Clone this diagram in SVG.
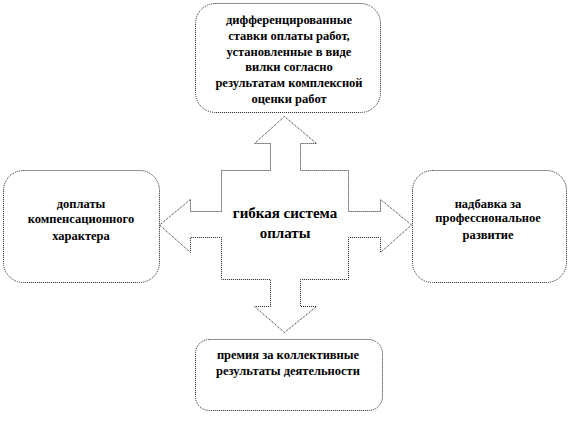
<svg xmlns="http://www.w3.org/2000/svg" width="570" height="423" viewBox="0 0 570 423">
<style>
.box{fill:#fff;stroke:#222;stroke-width:1;stroke-dasharray:1 1}
.arrow{fill:#fff;stroke:#222;stroke-width:1;stroke-dasharray:1 1}
text{font-family:'Liberation Serif','DejaVu Serif',serif;font-weight:bold;fill:#000;text-anchor:middle}
.t{font-size:12.5px}
.c{font-size:15px}
</style>
<rect width="570" height="423" fill="#fff"/>
<g id="connectors">
<path class="arrow" d="M284.5,116.5 L316.5,143.5 L300.5,143.5 L300.5,170.5 L348.5,170.5 L348.5,211.5 L380.5,211.5 L380.5,199.5 L411.5,225 L380.5,252.5 L380.5,237.5 L348.5,237.5 L348.5,279.5 L300.5,279.5 L300.5,306.5 L316.5,306.5 L284.5,332.5 L254.5,306.5 L270.5,306.5 L270.5,279.5 L221.5,279.5 L221.5,237.5 L190.5,237.5 L190.5,252.5 L159.5,225 L190.5,199.5 L190.5,211.5 L221.5,211.5 L221.5,170.5 L270.5,170.5 L270.5,143.5 L254.5,143.5 Z"/>
</g>
<g id="center" font-family="Liberation Serif, serif">
<text class="c" x="285" y="218">гибкая система</text>
<text class="c" x="285" y="238">оплаты</text>
</g>
<g id="top" font-family="Liberation Serif, serif">
<rect class="box" x="195.5" y="3.5" width="185" height="109" rx="20"/>
<text class="t" x="289" y="24">дифференцированные</text>
<text class="t" x="289" y="40">ставки оплаты работ,</text>
<text class="t" x="289" y="56">установленные в виде</text>
<text class="t" x="289" y="71">вилки согласно</text>
<text class="t" x="289" y="87">результатам комплексной</text>
<text class="t" x="289" y="103">оценки работ</text>
</g>
<g id="left" font-family="Liberation Serif, serif">
<rect class="box" x="3.5" y="170.5" width="156" height="112" rx="20"/>
<text class="t" x="81" y="208">доплаты</text>
<text class="t" x="81" y="223">компенсационного</text>
<text class="t" x="81" y="240">характера</text>
</g>
<g id="right" font-family="Liberation Serif, serif">
<rect class="box" x="412.5" y="170.5" width="154" height="112" rx="20"/>
<text class="t" x="488" y="208">надбавка за</text>
<text class="t" x="488" y="222">профессиональное</text>
<text class="t" x="488" y="239">развитие</text>
</g>
<g id="bottom" font-family="Liberation Serif, serif">
<rect class="box" x="195.5" y="339.5" width="187" height="71" rx="14"/>
<text class="t" x="288" y="359">премия за коллективные</text>
<text class="t" x="288" y="375">результаты деятельности</text>
</g>
</svg>
